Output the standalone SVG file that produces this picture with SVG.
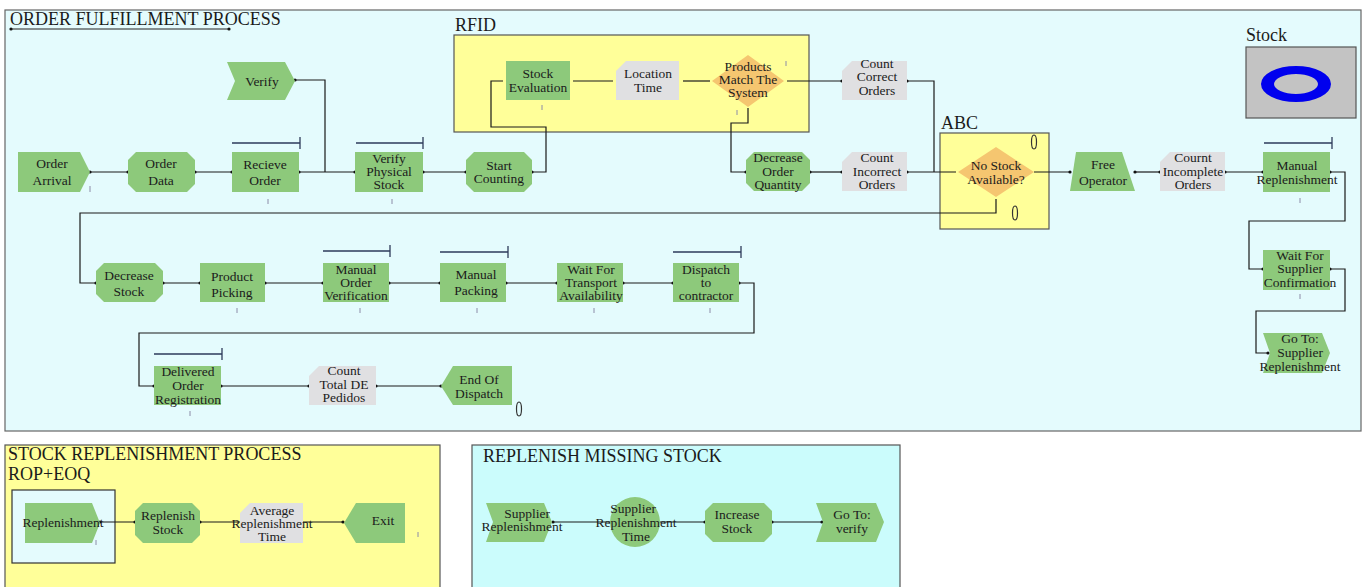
<svg xmlns="http://www.w3.org/2000/svg" width="1364" height="587" viewBox="0 0 1364 587">
<style>
text{font-family:"Liberation Serif","Times New Roman",serif;fill:#1b1b1b}
.t{font-size:13.5px;text-anchor:middle}
.h{font-size:18px}
.g{fill:#8dc97b}
.d{fill:#e0e0e2}
.o{fill:#f5c670}
.c{fill:none;stroke:#1a1a1a;stroke-width:1.2}
.bar{fill:none;stroke:#2d3a5a;stroke-width:1.3}
.mk{stroke:#8c8ca8;stroke-width:1}
.ov{fill:none;stroke:#333;stroke-width:1.2}
</style>
<defs>
<marker id="dot" viewBox="0 0 4 4" refX="2" refY="2" markerWidth="4" markerHeight="4" markerUnits="userSpaceOnUse"><circle cx="2" cy="2" r="1.6" fill="#111"/></marker>
</defs>

<!-- containers -->
<g id="order-fulfillment">
<rect x="5" y="10" width="1356" height="421" fill="#e4fbfd" stroke="#666" stroke-width="1.2"/>
<text class="h" x="10" y="25">ORDER FULFILLMENT PROCESS</text>
<line x1="11" y1="29" x2="229" y2="29" stroke="#222" stroke-width="1.2" marker-start="url(#dot)" marker-end="url(#dot)"/>
</g>
<g id="rfid">
<rect x="454" y="35" width="355" height="97" fill="#ffff99" stroke="#555" stroke-width="1.2"/>
<text class="h" x="455" y="31">RFID</text>
</g>
<g id="abc">
<rect x="940" y="133" width="109" height="96" fill="#ffff99" stroke="#555" stroke-width="1.2"/>
<text class="h" x="941" y="129">ABC</text>
</g>
<g id="stock">
<text class="h" x="1246" y="41">Stock</text>
<rect x="1246" y="47" width="110" height="71" fill="#c3c3c3" stroke="#555" stroke-width="1.2"/>
<path d="M1261,84 a35,18 0 1,0 70,0 a35,18 0 1,0 -70,0 Z M1274,84 a22,10 0 1,0 44,0 a22,10 0 1,0 -44,0 Z" fill="#0000ee" fill-rule="evenodd"/>
</g>
<g id="stock-replenishment">
<rect x="5" y="445" width="435" height="150" fill="#ffff99" stroke="#555" stroke-width="1.2"/>
<text class="h" x="8" y="460">STOCK REPLENISHMENT PROCESS</text>
<text class="h" x="8" y="480">ROP+EOQ</text>
<rect x="12" y="490" width="103" height="73" fill="#e4fbfd" stroke="#333" stroke-width="1.2"/>
</g>
<g id="replenish-missing">
<rect x="472" y="445" width="428" height="150" fill="#cbfcfc" stroke="#555" stroke-width="1.2"/>
<text class="h" x="483" y="462">REPLENISH MISSING STOCK</text>
</g>

<!-- connectors -->
<g id="connectors">
<polyline class="c" points="90,172 128,172" marker-start="url(#dot)" marker-end="url(#dot)"/>
<polyline class="c" points="195,172 232,172" marker-start="url(#dot)" marker-end="url(#dot)"/>
<polyline class="c" points="299,172 355,172" marker-start="url(#dot)" marker-end="url(#dot)"/>
<polyline class="c" points="295,80 325,80 325,172" marker-start="url(#dot)"/>
<polyline class="c" points="423,172 466,172" marker-start="url(#dot)" marker-end="url(#dot)"/>
<polyline class="c" points="532,172 546,172 546,127 491,127 491,81 503,81" marker-start="url(#dot)"/>
<polyline class="c" points="573,81 613,81"/>
<polyline class="c" points="683,81 710,81"/>
<polyline class="c" points="787,81 842,81" marker-end="url(#dot)"/>
<polyline class="c" points="748,108 748,123 731,123 731,172 746,172" marker-end="url(#dot)"/>
<polyline class="c" points="810,172 842,172" marker-start="url(#dot)" marker-end="url(#dot)"/>
<polyline class="c" points="907,81 934,81 934,172" marker-start="url(#dot)"/>
<polyline class="c" points="907,172 956,172" marker-start="url(#dot)"/>
<polyline class="c" points="996,199 996,213 80,213 80,283 96,283" marker-end="url(#dot)"/>
<polyline class="c" points="1034,172 1070,172" marker-end="url(#dot)"/>
<polyline class="c" points="1135,172 1160,172" marker-start="url(#dot)" marker-end="url(#dot)"/>
<polyline class="c" points="1225,172 1263,172" marker-start="url(#dot)" marker-end="url(#dot)"/>
<polyline class="c" points="1330,172 1345,172 1345,221 1249,221 1249,269 1263,269" marker-start="url(#dot)" marker-end="url(#dot)"/>
<polyline class="c" points="1330,269 1345,269 1345,311 1256,311 1256,353 1268,353" marker-start="url(#dot)" marker-end="url(#dot)"/>
<polyline class="c" points="163,283 200,283" marker-start="url(#dot)" marker-end="url(#dot)"/>
<polyline class="c" points="265,283 323,283" marker-start="url(#dot)" marker-end="url(#dot)"/>
<polyline class="c" points="389,283 440,283" marker-start="url(#dot)" marker-end="url(#dot)"/>
<polyline class="c" points="506,283 557,283" marker-start="url(#dot)" marker-end="url(#dot)"/>
<polyline class="c" points="623,283 673,283" marker-start="url(#dot)" marker-end="url(#dot)"/>
<polyline class="c" points="739,283 754,283 754,333 139,333 139,386 154,386" marker-start="url(#dot)" marker-end="url(#dot)"/>
<polyline class="c" points="221,386 309,386" marker-start="url(#dot)" marker-end="url(#dot)"/>
<polyline class="c" points="376,386 441,386" marker-start="url(#dot)" marker-end="url(#dot)"/>
<polyline class="c" points="100,522 135,522" marker-start="url(#dot)" marker-end="url(#dot)"/>
<polyline class="c" points="200,522 343,522" marker-start="url(#dot)" marker-end="url(#dot)"/>
<polyline class="c" points="553,522 705,522" marker-start="url(#dot)" marker-end="url(#dot)"/>
<polyline class="c" points="772,522 822,522" marker-start="url(#dot)" marker-end="url(#dot)"/>
</g>

<!-- row 1 -->
<g id="order-arrival">
<polygon class="g" points="18,152 80,152 90,172 80,192 18,192"/>
<text class="t"><tspan x="52" y="168">Order</tspan><tspan x="52" y="185">Arrival</tspan></text>
<line class="mk" x1="90" y1="186" x2="90" y2="192"/>
</g>
<g id="order-data">
<polygon class="g" points="136,152 187,152 195,160 195,184 187,192 136,192 128,184 128,160"/>
<text class="t"><tspan x="161" y="168">Order</tspan><tspan x="161" y="185">Data</tspan></text>
</g>
<g id="recieve-order">
<rect class="g" x="232" y="152" width="67" height="40"/>
<text class="t"><tspan x="265" y="169">Recieve</tspan><tspan x="265" y="185">Order</tspan></text>
<polyline class="bar" points="232,143 300,143"/><line class="bar" x1="300" y1="137" x2="300" y2="149"/>
<line class="mk" x1="268" y1="199" x2="268" y2="204"/>
</g>
<g id="verify">
<polygon class="g" points="227,62 285,62 295,81 285,100 227,100 235,81"/>
<text class="t" x="262" y="86">Verify</text>
</g>
<g id="verify-physical-stock">
<rect class="g" x="355" y="152" width="68" height="40"/>
<text class="t"><tspan x="389" y="163">Verify</tspan><tspan x="389" y="176">Physical</tspan><tspan x="389" y="189">Stock</tspan></text>
<polyline class="bar" points="356,143 423,143"/><line class="bar" x1="423" y1="137" x2="423" y2="149"/>
<line class="mk" x1="392" y1="199" x2="392" y2="204"/>
</g>
<g id="start-counting">
<polygon class="g" points="474,152 524,152 532,160 532,184 524,192 474,192 466,184 466,160"/>
<text class="t"><tspan x="499" y="170">Start</tspan><tspan x="499" y="183">Counting</tspan></text>
</g>
<g id="stock-evaluation">
<rect class="g" x="506" y="61" width="64" height="39"/>
<text class="t"><tspan x="538" y="78">Stock</tspan><tspan x="538" y="92">Evaluation</tspan></text>
<line class="mk" x1="542" y1="105" x2="542" y2="110"/>
</g>
<g id="location-time">
<polygon class="d" points="626,61 679,61 679,100 616,100 616,71"/>
<text class="t"><tspan x="648" y="78">Location</tspan><tspan x="648" y="92">Time</tspan></text>
</g>
<g id="products-match">
<polygon class="o" points="748,55 784,81 748,107 712,81"/>
<text class="t"><tspan x="748" y="71">Products</tspan><tspan x="748" y="84">Match The</tspan><tspan x="748" y="97">System</tspan></text>
<line class="mk" x1="786" y1="61" x2="786" y2="66"/>
<line class="mk" x1="737" y1="110" x2="737" y2="115"/>
</g>
<g id="count-correct-orders">
<polygon class="d" points="852,61 907,61 907,100 842,100 842,71"/>
<text class="t"><tspan x="877" y="68">Count</tspan><tspan x="877" y="81">Correct</tspan><tspan x="877" y="95">Orders</tspan></text>
</g>
<g id="decrease-order-quantity">
<polygon class="g" points="754,152 802,152 810,160 810,183 802,191 754,191 746,183 746,160"/>
<text class="t"><tspan x="778" y="162">Decrease</tspan><tspan x="778" y="176">Order</tspan><tspan x="778" y="189">Quantity</tspan></text>
</g>
<g id="count-incorrect-orders">
<polygon class="d" points="852,152 907,152 907,191 842,191 842,162"/>
<text class="t"><tspan x="877" y="162">Count</tspan><tspan x="877" y="176">Incorrect</tspan><tspan x="877" y="189">Orders</tspan></text>
</g>
<g id="no-stock-available">
<polygon class="o" points="996,147 1034,172 996,197 958,172"/>
<text class="t"><tspan x="996" y="170">No Stock</tspan><tspan x="996" y="184">Available?</tspan></text>
<ellipse class="ov" cx="1034" cy="142" rx="2.5" ry="7"/>
<ellipse class="ov" cx="1015" cy="213" rx="2.5" ry="7"/>
</g>
<g id="free-operator">
<polygon class="g" points="1076,152 1122,152 1135,191 1070,191"/>
<text class="t"><tspan x="1103" y="169">Free</tspan><tspan x="1103" y="185">Operator</tspan></text>
</g>
<g id="count-incomplete-orders">
<polygon class="d" points="1170,152 1225,152 1225,191 1160,191 1160,162"/>
<text class="t"><tspan x="1193" y="162">Cournt</tspan><tspan x="1193" y="176">Incomplete</tspan><tspan x="1193" y="189">Orders</tspan></text>
</g>
<g id="manual-replenishment">
<rect class="g" x="1263" y="152" width="67" height="40"/>
<text class="t"><tspan x="1297" y="170">Manual</tspan><tspan x="1297" y="184">Replenishment</tspan></text>
<polyline class="bar" points="1264,143 1332,143"/><line class="bar" x1="1332" y1="137" x2="1332" y2="149"/>
<line class="mk" x1="1300" y1="198" x2="1300" y2="203"/>
</g>
<g id="wait-supplier-confirmation">
<rect class="g" x="1263" y="250" width="67" height="40"/>
<text class="t"><tspan x="1300" y="260">Wait For</tspan><tspan x="1300" y="273">Supplier</tspan><tspan x="1300" y="287">Confirmation</tspan></text>
<line class="mk" x1="1300" y1="294" x2="1300" y2="299"/>
</g>
<g id="goto-supplier-replenishment">
<polygon class="g" points="1263,333 1322,333 1330,353 1322,373 1263,373 1270,353"/>
<text class="t"><tspan x="1300" y="343">Go To:</tspan><tspan x="1300" y="357">Supplier</tspan><tspan x="1300" y="371">Replenishment</tspan></text>
</g>

<!-- row 2 -->
<g id="decrease-stock">
<polygon class="g" points="104,263 155,263 163,271 163,294 155,302 104,302 96,294 96,271"/>
<text class="t"><tspan x="129" y="280">Decrease</tspan><tspan x="129" y="296">Stock</tspan></text>
</g>
<g id="product-picking">
<rect class="g" x="200" y="263" width="65" height="39"/>
<text class="t"><tspan x="232" y="281">Product</tspan><tspan x="232" y="297">Picking</tspan></text>
<line class="mk" x1="237" y1="308" x2="237" y2="313"/>
</g>
<g id="manual-order-verification">
<rect class="g" x="323" y="263" width="66" height="39"/>
<text class="t"><tspan x="356" y="274">Manual</tspan><tspan x="356" y="287">Order</tspan><tspan x="356" y="300">Verification</tspan></text>
<polyline class="bar" points="323,251 390,251"/><line class="bar" x1="390" y1="245" x2="390" y2="257"/>
<line class="mk" x1="360" y1="308" x2="360" y2="313"/>
</g>
<g id="manual-packing">
<rect class="g" x="440" y="263" width="66" height="39"/>
<text class="t"><tspan x="476" y="279">Manual</tspan><tspan x="476" y="295">Packing</tspan></text>
<polyline class="bar" points="440,252 508,252"/><line class="bar" x1="508" y1="246" x2="508" y2="258"/>
<line class="mk" x1="477" y1="308" x2="477" y2="313"/>
</g>
<g id="wait-transport-availability">
<rect class="g" x="557" y="263" width="66" height="39"/>
<text class="t"><tspan x="591" y="274">Wait For</tspan><tspan x="591" y="287">Transport</tspan><tspan x="591" y="300">Availability</tspan></text>
<line class="mk" x1="594" y1="308" x2="594" y2="313"/>
</g>
<g id="dispatch-to-contractor">
<rect class="g" x="673" y="263" width="66" height="39"/>
<text class="t"><tspan x="706" y="274">Dispatch</tspan><tspan x="706" y="287">to</tspan><tspan x="706" y="300">contractor</tspan></text>
<polyline class="bar" points="673,252 741,252"/><line class="bar" x1="741" y1="246" x2="741" y2="258"/>
<line class="mk" x1="710" y1="308" x2="710" y2="313"/>
</g>

<!-- row 3 -->
<g id="delivered-order-registration">
<rect class="g" x="154" y="366" width="67" height="39"/>
<text class="t"><tspan x="188" y="376">Delivered</tspan><tspan x="188" y="390">Order</tspan><tspan x="188" y="404">Registration</tspan></text>
<polyline class="bar" points="154,354 222,354"/><line class="bar" x1="222" y1="348" x2="222" y2="360"/>
<line class="mk" x1="190" y1="411" x2="190" y2="416"/>
</g>
<g id="count-total-de-pedidos">
<polygon class="d" points="319,366 376,366 376,405 309,405 309,376"/>
<text class="t"><tspan x="344" y="375">Count</tspan><tspan x="344" y="389">Total DE</tspan><tspan x="344" y="402">Pedidos</tspan></text>
</g>
<g id="end-of-dispatch">
<polygon class="g" points="453,366 512,366 512,405 453,405 441,386"/>
<text class="t"><tspan x="479" y="384">End Of</tspan><tspan x="479" y="398">Dispatch</tspan></text>
<ellipse class="ov" cx="519" cy="409" rx="2.5" ry="7"/>
</g>

<!-- stock replenishment -->
<g id="replenishment">
<polygon class="g" points="25,503 92,503 100,523 92,543 25,543"/>
<text class="t" x="63" y="527">Replenishment</text>
<line class="mk" x1="96" y1="540" x2="96" y2="545"/>
</g>
<g id="replenish-stock">
<polygon class="g" points="143,503 192,503 200,511 200,535 192,543 143,543 135,535 135,511"/>
<text class="t"><tspan x="168" y="520">Replenish</tspan><tspan x="168" y="534">Stock</tspan></text>
</g>
<g id="average-replenishment-time">
<polygon class="d" points="250,503 303,503 303,543 240,543 240,513"/>
<text class="t"><tspan x="272" y="515">Average</tspan><tspan x="272" y="528">Replenishment</tspan><tspan x="272" y="541">Time</tspan></text>
</g>
<g id="exit">
<polygon class="g" points="356,503 405,503 405,543 356,543 344,523"/>
<text class="t" x="383" y="525">Exit</text>
<line class="mk" x1="418" y1="532" x2="418" y2="537"/>
</g>

<!-- replenish missing stock -->
<g id="supplier-replenishment">
<polygon class="g" points="486,503 544,503 552,522 544,542 486,542 493,522"/>
<text class="t"><tspan x="527" y="518">Supplier</tspan><tspan x="522" y="531">Replenishment</tspan></text>
</g>
<g id="supplier-replenishment-time">
<circle class="g" cx="635" cy="522" r="25"/>
<text class="t"><tspan x="633" y="513">Supplier</tspan><tspan x="636" y="527">Replenishment</tspan><tspan x="636" y="541">Time</tspan></text>
</g>
<g id="increase-stock">
<polygon class="g" points="713,503 764,503 772,511 772,534 764,542 713,542 705,534 705,511"/>
<text class="t"><tspan x="737" y="519">Increase</tspan><tspan x="737" y="533">Stock</tspan></text>
</g>
<g id="goto-verify">
<polygon class="g" points="816,503 876,503 884,522 876,542 816,542 823,522"/>
<text class="t"><tspan x="852" y="519">Go To:</tspan><tspan x="852" y="533">verify</tspan></text>
</g>
</svg>
